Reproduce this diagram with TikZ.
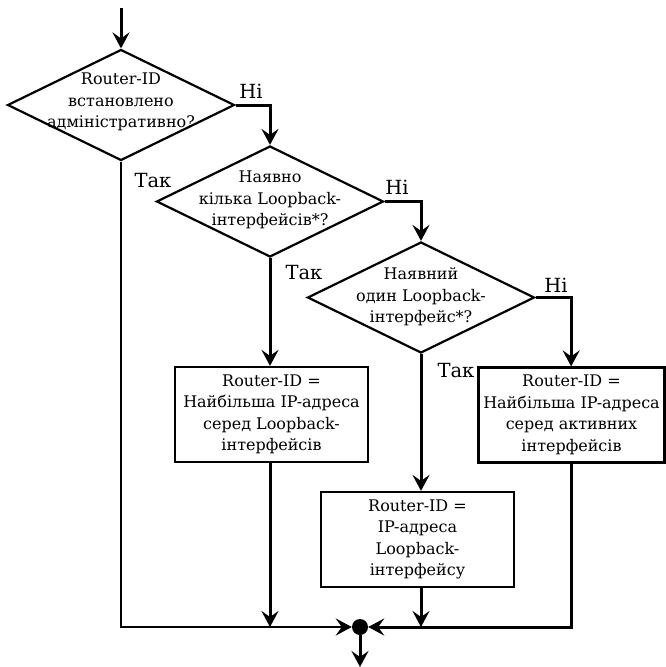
\documentclass[tikz,border=0pt]{standalone}
\usepackage{fontspec}
\setmainfont{DejaVu Serif}
\usetikzlibrary{shapes.geometric,arrows.meta}
\tikzset{
  decision/.style={draw,diamond,line width=2.2pt,inner sep=0pt,minimum width=227pt,minimum height=111pt},
  dtext/.style={align=center,font=\fontsize{16}{21.5}\selectfont},
  block/.style={draw,rectangle,line width=2.2pt,minimum width=193pt,minimum height=95pt,align=center,font=\fontsize{16}{21.5}\selectfont},
  flow/.style={line width=3pt,-{Stealth[length=16pt,width=17pt,inset=6pt]}},
  answer/.style={font=\fontsize{19.5}{22}\selectfont},
  junction/.style={circle,fill,inner sep=0pt,minimum size=16pt}
}
\begin{document}
\begin{tikzpicture}[x=1pt,y=-1pt]
    \useasboundingbox (0,0) rectangle (665,667);

    %Entrada y salida
    \coordinate (in) at (121,8);
    \coordinate (out) at (360,667);

    %Rombos
    \node[decision] (d1) at (121,105) {};
    \node[dtext] (t1) at (121,102) {Router-ID\\встановлено\\адміністративно?};
    \node[decision] (d2) at (270,201.5) {};
    \node[dtext] (t2) at (270,200) {Наявно\\кілька Loopback-\\інтерфейсів*?};
    \node[decision] (d3) at (421,297.5) {};
    \node[dtext] (t3) at (421,297) {Наявний\\один Loopback-\\інтерфейс*?};

    %Bloques
    \node[block] (b1) at (271.5,414.5) {Router-ID =\\Найбільша IP-адреса\\серед Loopback-\\інтерфейсів};
    \node[block] (b2) at (417.5,539.5) {Router-ID =\\ IP-адреса\\Loopback-\\інтерфейсу};
    \node[block,minimum width=186pt] (b3) at (571.5,415) {Router-ID =\\Найбільша IP-адреса\\серед активних\\інтерфейсів};

    %Punto de union
    \node[junction] (j) at (360,627) {};

    %Respuestas
    \node[answer] (n1) at (251,91) {Ні};
    \node[answer] (y1) at (153,181) {Так};
    \node[answer] (n2) at (397,187) {Ні};
    \node[answer] (y2) at (304,273) {Так};
    \node[answer] (n3) at (556,285) {Ні};
    \node[answer] (y3) at (456,371) {Так};

    %Conexiones
    \draw[flow] (in) -- (d1.north);
    \draw[flow] (d1.east) -| (d2.north);
    \draw[flow] (d2.east) -| (d3.north);
    \draw[flow] (d3.east) -| (b3.north -| n3.east);
    \draw[flow] (d2.south) -- (d2.south |- b1.north);
    \draw[flow] (d3.south) -- (d3.south |- b2.north);
    \draw[flow,line width=2.4pt] (d1.south) |- (j);
    \draw[flow] (d2.south |- b1.south) -- (d2.south |- j.center);
    \draw[flow] (d3.south |- b2.south) -- (d3.south |- j.center);
    \draw[flow] (b3.south -| n3.east) |- (j);
    \draw[flow] (j) -- (out);
\end{tikzpicture}
\end{document}
